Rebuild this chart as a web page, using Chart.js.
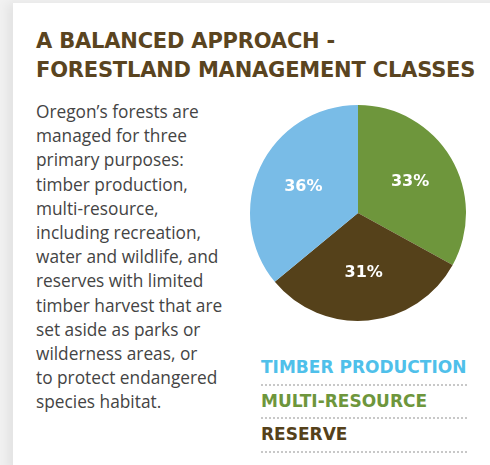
<!DOCTYPE html>
<html>
<head>
<meta charset="utf-8">
<script src="https://cdn.jsdelivr.net/npm/chart.js@4"></script>
<style>
  html, body { margin: 0; padding: 0; }
  body {
    width: 490px; height: 465px; overflow: hidden;
    background: #f1f1f1;
    position: relative;
  }
  #card {
    position: absolute; left: 13px; top: 3px; width: 490px; height: 470px;
    background: #fff;
    box-shadow: -6px 0 10px rgba(0,0,0,0.06);
  }
  #title {
    position: absolute; left: 36px; top: 27px;
    font-family: "DejaVu Sans", sans-serif; font-weight: bold;
    font-size: 21px; line-height: 29px; color: #5a4420;
    letter-spacing: -0.2px;
    margin: 0;
  }
  #body {
    position: absolute; left: 36px; top: 100px;
    font-family: "Open Sans", sans-serif; font-size: 17.3px; line-height: 24.2px;
    color: #444; margin: 0;
  }
  #chartWrap { position: absolute; left: 238px; top: 93px; width: 240px; height: 240px; }
  #legend { position: absolute; left: 261px; top: 352px; width: 206px; }
  .item {
    font-family: "DejaVu Sans", sans-serif; font-weight: bold; font-size: 17px;
    height: 33.5px; line-height: 30px; box-sizing: border-box;
    border-bottom: 2px dotted #c8c8c8;
  }
</style>
</head>
<body>
<div id="card"></div>
<h1 id="title">A BALANCED APPROACH -<br>FORESTLAND MANAGEMENT CLASSES</h1>
<p id="body">Oregon’s forests are<br>managed for three<br>primary purposes:<br>timber production,<br>multi-resource,<br>including recreation,<br>water and wildlife, and<br>reserves with limited<br>timber harvest that are<br>set aside as parks or<br>wilderness areas, or<br>to protect endangered<br>species habitat.</p>
<div id="chartWrap"><canvas id="pieChart" width="240" height="240"></canvas></div>
<div id="legend"></div>
<script>
// slices clockwise from 12 o'clock
const classes = ["MULTI-RESOURCE", "RESERVE", "TIMBER PRODUCTION"];
const shares = [33, 31, 36];
const sliceColors = ["#6e963c", "#55411a", "#79bce7"];
const legendColors = ["#6e963c", "#55411a", "#4fc0ea"];
const legendOrder = ["TIMBER PRODUCTION", "MULTI-RESOURCE", "RESERVE"];

// legend list
const legend = document.querySelector('#legend');
legendOrder.forEach(name => {
  const i = classes.indexOf(name);
  const div = document.createElement('div');
  div.className = 'item';
  div.style.color = legendColors[i];
  div.textContent = name;
  legend.appendChild(div);
});

// white percentage labels inside slices
const sliceLabels = {
  id: 'sliceLabels',
  afterDatasetsDraw(chart) {
    const ctx = chart.ctx;
    const meta = chart.getDatasetMeta(0);
    ctx.save();
    ctx.fillStyle = '#fff';
    ctx.font = 'bold 16px "DejaVu Sans", sans-serif';
    ctx.textAlign = 'center';
    ctx.textBaseline = 'middle';
    meta.data.forEach((arc, i) => {
      const p = arc.getProps(['x', 'y', 'startAngle', 'endAngle', 'outerRadius']);
      const mid = (p.startAngle + p.endAngle) / 2;
      const r = p.outerRadius * 0.56;
      ctx.fillText(shares[i] + '%', p.x + Math.cos(mid) * r, p.y + Math.sin(mid) * r);
    });
    ctx.restore();
  }
};

const pieChart = new Chart(document.querySelector('#pieChart').getContext('2d'), {
  type: 'pie',
  data: {
    labels: classes,
    datasets: [{
      data: shares,
      backgroundColor: sliceColors,
      borderWidth: 0
    }]
  },
  options: {
    responsive: false,
    animation: false,
    layout: { padding: 12 },
    plugins: {
      legend: { display: false },
      tooltip: { enabled: false }
    }
  },
  plugins: [sliceLabels]
});
</script>
</body>
</html>
